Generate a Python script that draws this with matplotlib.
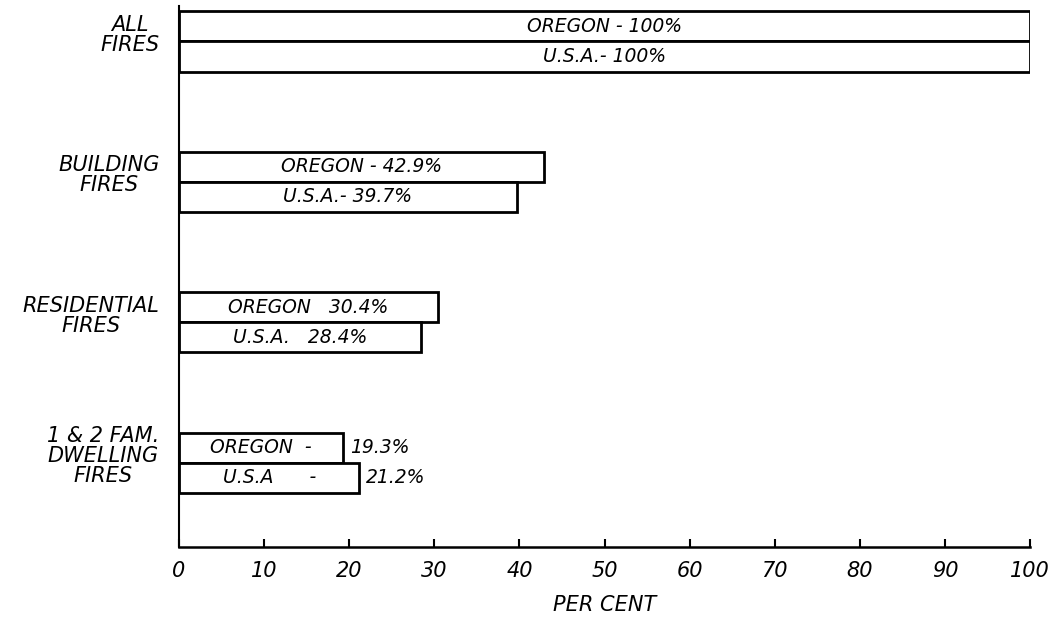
import matplotlib.pyplot as plt
import numpy as np

categories = ['ALL\nFIRES', 'BUILDING\nFIRES', 'RESIDENTIAL\nFIRES', '1 & 2 FAM.\nDWELLING\nFIRES']
oregon = [100, 42.9, 30.4, 19.3]
usa = [100, 39.7, 28.4, 21.2]
oregon_text = ['OREGON - 100%', 'OREGON - 42.9%', 'OREGON   30.4%', 'OREGON  -']
usa_text = ['U.S.A.- 100%', 'U.S.A.- 39.7%', 'U.S.A.   28.4%', 'U.S.A      -']
oregon_outside = ['', '', '', '19.3%']
usa_outside = ['', '', '', '21.2%']
xticks = [0, 10, 20, 30, 40, 50, 60, 70, 80, 90, 100]

plt.rcParams['font.family'] = ['DejaVu Sans']
plt.rcParams['font.style'] = 'italic'

fig = plt.figure(figsize=(10.62, 6.22), dpi=100)
ax = fig.add_axes([0.1685, 0.1206, 0.8015, 0.8694])

y = np.arange(len(categories))
h = 0.215

ax.barh(y - h / 2, oregon, height=h, color='white', edgecolor='black', linewidth=2)
ax.barh(y + h / 2, usa, height=h, color='white', edgecolor='black', linewidth=2)

for i in range(len(categories)):
    ax.text(oregon[i] / 2, y[i] - h / 2, oregon_text[i], ha='center', va='center', fontsize=13.5)
    ax.text(usa[i] / 2, y[i] + h / 2, usa_text[i], ha='center', va='center', fontsize=13.5)
    if oregon_outside[i]:
        ax.text(oregon[i] + 0.8, y[i] - h / 2, oregon_outside[i], ha='left', va='center', fontsize=13.5)
    if usa_outside[i]:
        ax.text(usa[i] + 0.8, y[i] + h / 2, usa_outside[i], ha='left', va='center', fontsize=13.5)

ax.set_xlim(0, 100)
ax.set_ylim(3.6, -0.25)

ax.set_yticks(y - 0.06)
ax.set_yticklabels(categories, fontsize=15)
for lbl in ax.get_yticklabels():
    lbl.set_multialignment('center')
    lbl.set_linespacing(1.0)
ax.tick_params(axis='y', length=0, pad=14)

ax.set_xticks(xticks)
ax.set_xticklabels([str(t) for t in xticks], fontsize=15)
ax.tick_params(axis='x', direction='in', length=6, width=1.5, pad=10)

ax.spines['top'].set_visible(False)
ax.spines['right'].set_visible(False)
ax.spines['left'].set_linewidth(1.5)
ax.spines['bottom'].set_linewidth(1.8)

ax.set_xlabel('PER CENT', fontsize=15, labelpad=10)

plt.savefig('out.png', dpi=100)
